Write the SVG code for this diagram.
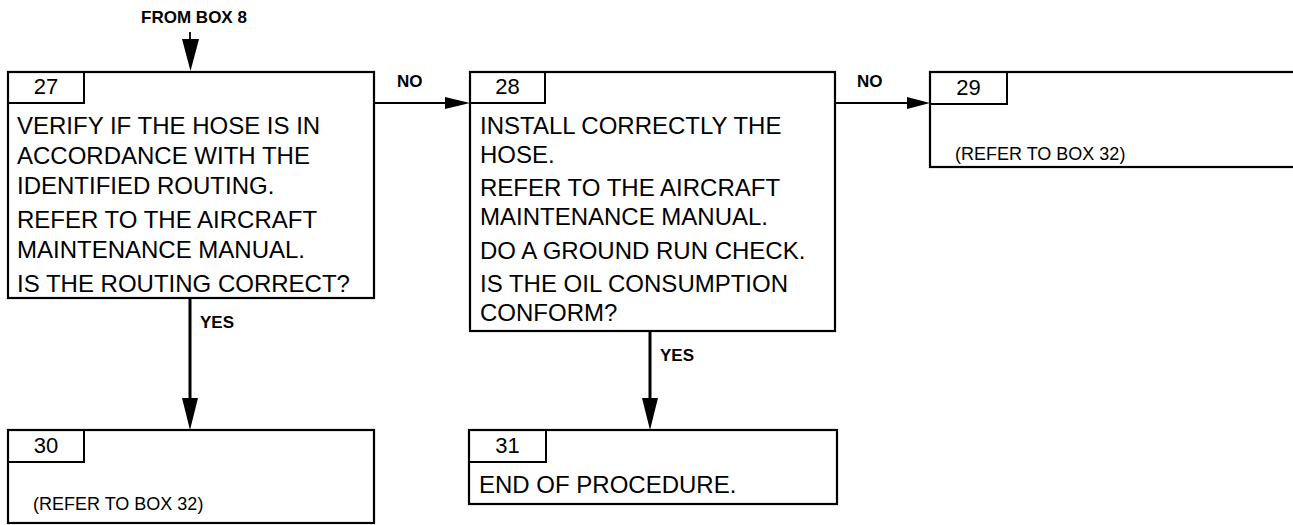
<svg xmlns="http://www.w3.org/2000/svg" width="1293" height="525" viewBox="0 0 1293 525">
<style>
.box{fill:#fff;stroke:#000;stroke-width:2.2}
.hdr{fill:none;stroke:#000;stroke-width:2}
.num{font-family:"Liberation Sans",Arial,sans-serif;font-size:22px;fill:#000;text-anchor:middle}
.t{font-family:"Liberation Sans",Arial,sans-serif;font-size:24px;fill:#000}
.s{font-family:"Liberation Sans",Arial,sans-serif;font-size:18px;fill:#000}
.lbl{font-family:"Liberation Sans",Arial,sans-serif;font-size:17px;font-weight:bold;fill:#000}
.ln{stroke:#000;fill:none}
.head{fill:#000;stroke:none}
</style>
<rect width="1293" height="525" fill="#fff"/>
<g id="connectors">
  <text class="lbl" x="194" y="23" text-anchor="middle">FROM BOX 8</text>
  <line class="ln" x1="190" y1="32" x2="190" y2="42" stroke-width="1.8"/>
  <polygon class="head" points="182,39 199,39 190.5,71"/>
  <line class="ln" x1="374" y1="103" x2="448" y2="103" stroke-width="2"/>
  <polygon class="head" points="445,97 470,103 445,109"/>
  <text class="lbl" x="397" y="87">NO</text>
  <line class="ln" x1="835" y1="103" x2="910" y2="103" stroke-width="2"/>
  <polygon class="head" points="907,97 930,103 907,109"/>
  <text class="lbl" x="857" y="87">NO</text>
  <line class="ln" x1="190" y1="298" x2="190" y2="400" stroke-width="3"/>
  <polygon class="head" points="182,398 198,398 190,430"/>
  <text class="lbl" x="200" y="328">YES</text>
  <line class="ln" x1="650" y1="331" x2="650" y2="400" stroke-width="3"/>
  <polygon class="head" points="642,398 658,398 650,430"/>
  <text class="lbl" x="660" y="361">YES</text>
</g>
<g id="box27">
  <rect class="box" x="8" y="72" width="366" height="226"/>
  <rect class="hdr" x="8" y="72" width="76" height="31"/>
  <text class="num" x="46" y="94">27</text>
  <text class="t" x="17" y="134">VERIFY IF THE HOSE IS IN</text>
  <text class="t" x="17" y="164">ACCORDANCE WITH THE</text>
  <text class="t" x="17" y="194">IDENTIFIED ROUTING.</text>
  <text class="t" x="17" y="228">REFER TO THE AIRCRAFT</text>
  <text class="t" x="17" y="258">MAINTENANCE MANUAL.</text>
  <text class="t" x="17" y="292">IS THE ROUTING CORRECT?</text>
</g>
<g id="box28">
  <rect class="box" x="470" y="72" width="365" height="259"/>
  <rect class="hdr" x="470" y="72" width="75" height="31"/>
  <text class="num" x="507.5" y="94">28</text>
  <text class="t" x="480" y="134">INSTALL CORRECTLY THE</text>
  <text class="t" x="480" y="163">HOSE.</text>
  <text class="t" x="480" y="196">REFER TO THE AIRCRAFT</text>
  <text class="t" x="480" y="225">MAINTENANCE MANUAL.</text>
  <text class="t" x="480" y="259">DO A GROUND RUN CHECK.</text>
  <text class="t" x="480" y="292">IS THE OIL CONSUMPTION</text>
  <text class="t" x="480" y="321">CONFORM?</text>
</g>
<g id="box29">
  <rect class="box" x="930" y="72" width="380" height="95"/>
  <rect class="hdr" x="930" y="72" width="77" height="32"/>
  <text class="num" x="968.5" y="95">29</text>
  <text class="s" x="955" y="160">(REFER TO BOX 32)</text>
</g>
<g id="box30">
  <rect class="box" x="8" y="430" width="366" height="93"/>
  <rect class="hdr" x="8" y="430" width="76" height="32"/>
  <text class="num" x="46" y="453">30</text>
  <text class="s" x="33" y="510">(REFER TO BOX 32)</text>
</g>
<g id="box31">
  <rect class="box" x="469" y="430" width="368" height="74"/>
  <rect class="hdr" x="469" y="430" width="77" height="32"/>
  <text class="num" x="507.5" y="453">31</text>
  <text class="t" x="479" y="493">END OF PROCEDURE.</text>
</g>
</svg>
